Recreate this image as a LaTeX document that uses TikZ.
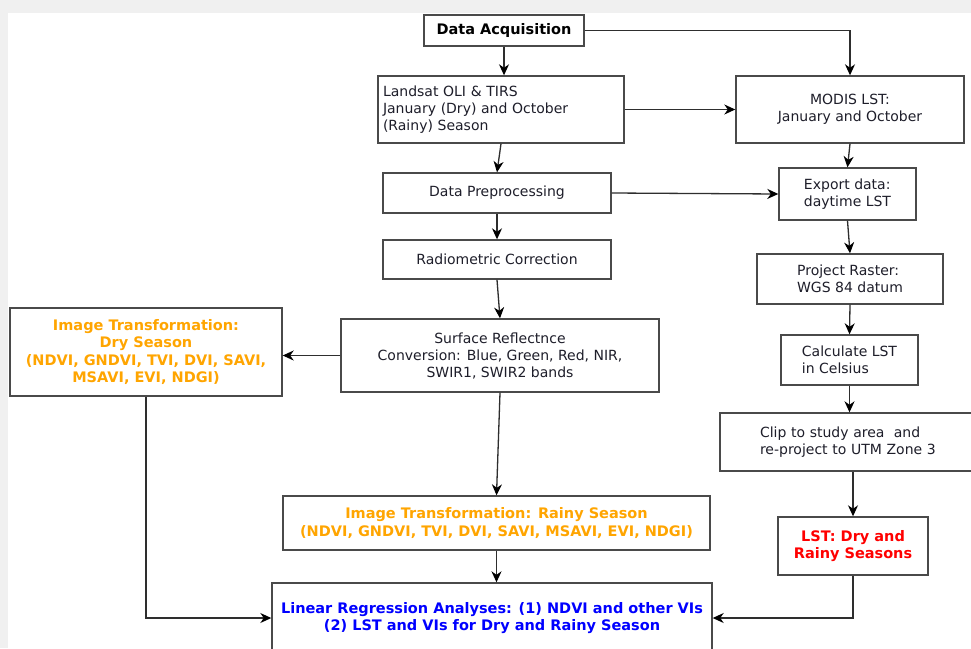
\documentclass[tikz,border=0pt]{standalone}
\usepackage{fontspec}
\setmainfont{DejaVu Sans}
\usepackage{tikz}
\usetikzlibrary{arrows.meta}
\definecolor{bggray}{HTML}{F0F0F0}
\definecolor{boxgray}{HTML}{4A4A4A}
\definecolor{linegray}{HTML}{2E2E2E}
\definecolor{txtdark}{HTML}{1E1E2A}
\definecolor{vorange}{HTML}{FFA500}

\begin{document}
\begin{tikzpicture}[x=1pt, y=-1pt,
  box/.style={draw=boxgray, line width=1.4pt, fill=white, align=center,
              inner sep=0pt, text=txtdark, font=\fontsize{14}{17}\selectfont},
  hbox/.style={box, font=\fontsize{14.5}{17.5}\selectfont\bfseries},
  link/.style={draw=linegray, line width=1.3pt,
               -{Stealth[length=11pt,width=10pt,inset=3.5pt,color=black]}}
]
\useasboundingbox (0,0) rectangle (971,648);
\clip (0,0) rectangle (971,648);
\fill[white] (0,0) rectangle (971,648);
\fill[bggray] (0,0) rectangle (971,13);
\fill[bggray] (0,0) rectangle (8,648);

% left column
\node[hbox, text=black, minimum width=160pt, minimum height=31pt] (acq) at (504,30.5) {Data Acquisition};
\node[box, align=left, text width=236pt, inner xsep=5pt, minimum height=67pt] (landsat) at (501,109.5)
  {\raisebox{-3pt}{\parbox{236pt}{Landsat OLI \& TIRS\\January (Dry) and October\\(Rainy) Season}}};
\node[box, minimum width=228pt, minimum height=40pt] (prep) at (497,193) {Data Preprocessing};
\node[box, minimum width=228pt, minimum height=39pt] (radio) at (497,259.5) {Radiometric Correction};
\node[box, minimum width=318pt, minimum height=73pt] (surf) at (500,355.5)
  {Surface Reflectnce\\Conversion: Blue, Green, Red, NIR,\\SWIR1, SWIR2 bands};
\node[hbox, text=vorange, minimum width=272pt, minimum height=88pt] (dry) at (146,352)
  {Image Transformation:\\Dry Season\\(NDVI, GNDVI, TVI, DVI, SAVI,\\MSAVI, EVI, NDGI)};
\node[hbox, text=vorange, minimum width=427pt, minimum height=54pt] (rainy) at (496.5,523)
  {Image Transformation: Rainy Season\\(NDVI, GNDVI, TVI, DVI, SAVI, MSAVI, EVI, NDGI)};
\node[hbox, text=blue, minimum width=440pt, minimum height=70pt] (lin) at (492,618)
  {Linear Regression Analyses: (1) NDVI and other VIs\\(2) LST and VIs for Dry and Rainy Season};

% right column
\node[box, minimum width=228pt, minimum height=67pt] (modis) at (850,109.5) {MODIS LST:\\January and October};
\node[box, align=left, minimum width=137pt, minimum height=52pt] (export) at (847.5,194) {Export data:\\daytime LST};
\node[box, align=left, minimum width=186pt, minimum height=50pt] (proj) at (850,279) {Project Raster:\\WGS 84 datum};
\node[box, align=left, minimum width=137pt, minimum height=50pt] (calc) at (849.5,360) {Calculate LST\\in Celsius};
\node[box, align=left, text width=250pt, inner xsep=40pt, minimum height=58pt] (clip) at (885,442)
  {Clip to study area\ \ and\\re-project to UTM Zone 3};
\node[hbox, text=red, minimum width=150pt, minimum height=58pt] (lst) at (853,546) {LST: Dry and\\Rainy Seasons};

% connectors
\draw[link] (acq.south) -- (landsat.north -| acq.south);
\draw[link] (acq.east) -| (modis.north);
\draw[link] (landsat.east) -- (modis.west);
\draw[link] (landsat.south) -- (prep.north);
\draw[link] (modis.south) -- (export.north);
\draw[link] (prep.east) -- (export.west);
\draw[link] (prep.south) -- (radio.north);
\draw[link] (radio.south) -- (surf.north);
\draw[link] (export.south) -- (proj.north);
\draw[link] (proj.south) -- (calc.north);
\draw[link] (calc.south) -- (calc.south |- clip.north);
\draw[link] (clip.south -| lst.north) -- (lst.north);
\draw[link] (surf.west) -- (surf.west -| dry.east);
\draw[link] (surf.south) -- (rainy.north);
\draw[link] (rainy.south) -- (rainy.south |- lin.north);
\draw[link] (dry.south) |- (lin.west);
\draw[link] (lst.south) |- (lin.east);
\end{tikzpicture}
\end{document}
